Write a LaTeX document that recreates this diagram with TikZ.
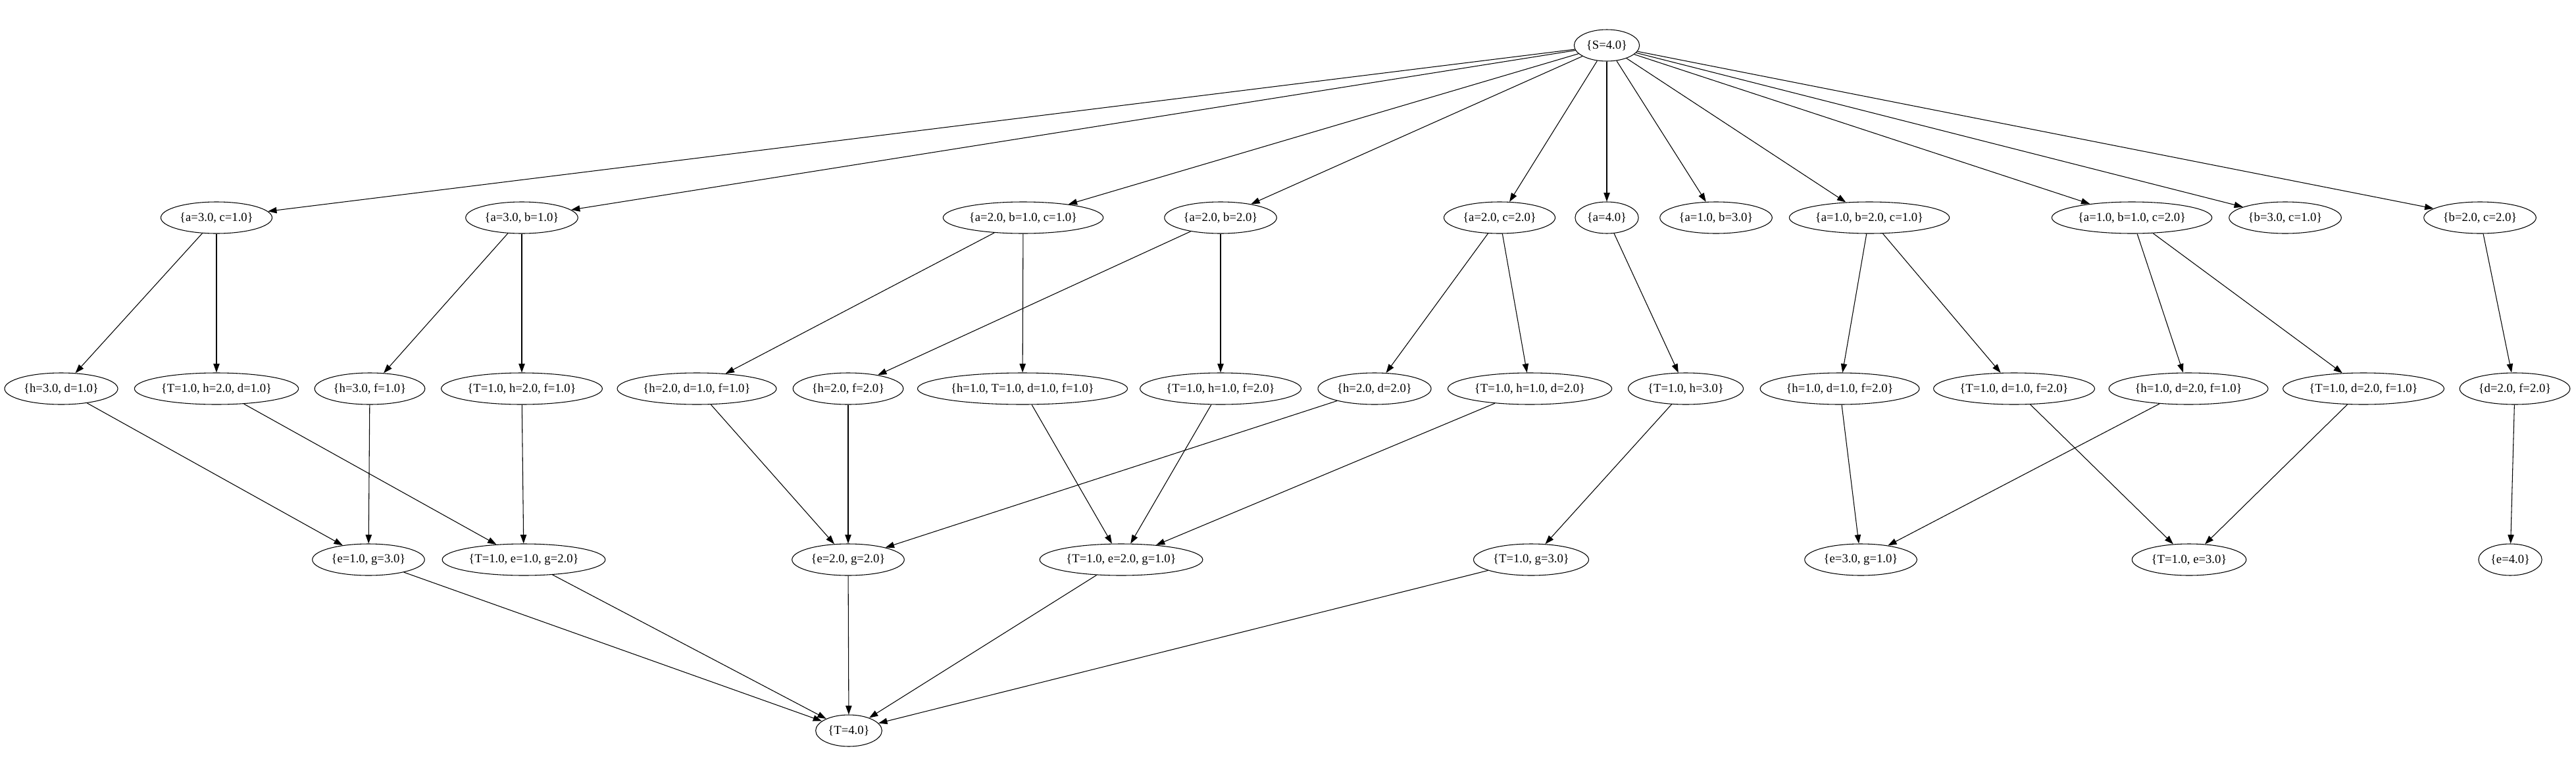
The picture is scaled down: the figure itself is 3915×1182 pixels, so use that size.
\documentclass[tikz,border=0pt]{standalone}
\usepackage{fontspec}
\setmainfont{Liberation Serif}
\usetikzlibrary{shapes.geometric,arrows.meta}
\begin{document}
\begin{tikzpicture}[x=0.75pt,y=-0.75pt,
  st/.style={draw,ellipse,line width=0.8pt,minimum height=36pt,inner xsep=3pt,inner ysep=2pt,font=\fontsize{14}{16}\selectfont},
  ed/.style={draw,line width=0.8pt,-{Triangle[length=10pt,width=7pt]}}]
\useasboundingbox (0,0) rectangle (3915,1182);
% row 0
\node[st] (s) at (2442,69) {\{S=4.0\}};
% row 1
\node[st] (r1a) at (329,331) {\{a=3.0, c=1.0\}};
\node[st] (r1b) at (793,331) {\{a=3.0, b=1.0\}};
\node[st] (r1c) at (1555,331) {\{a=2.0, b=1.0, c=1.0\}};
\node[st] (r1d) at (1855,331) {\{a=2.0, b=2.0\}};
\node[st] (r1e) at (2279,331) {\{a=2.0, c=2.0\}};
\node[st] (r1f) at (2442,331) {\{a=4.0\}};
\node[st] (r1g) at (2608,331) {\{a=1.0, b=3.0\}};
\node[st] (r1h) at (2841,331) {\{a=1.0, b=2.0, c=1.0\}};
\node[st] (r1i) at (3240,331) {\{a=1.0, b=1.0, c=2.0\}};
\node[st] (r1j) at (3473,331) {\{b=3.0, c=1.0\}};
\node[st] (r1k) at (3769,331) {\{b=2.0, c=2.0\}};
% row 2
\node[st] (r2a) at (93,591) {\{h=3.0, d=1.0\}};
\node[st] (r2b) at (329,591) {\{T=1.0, h=2.0, d=1.0\}};
\node[st] (r2c) at (562,591) {\{h=3.0, f=1.0\}};
\node[st] (r2d) at (793,591) {\{T=1.0, h=2.0, f=1.0\}};
\node[st] (r2e) at (1059,591) {\{h=2.0, d=1.0, f=1.0\}};
\node[st] (r2f) at (1289,591) {\{h=2.0, f=2.0\}};
\node[st] (r2g) at (1554,591) {\{h=1.0, T=1.0, d=1.0, f=1.0\}};
\node[st] (r2h) at (1855,591) {\{T=1.0, h=1.0, f=2.0\}};
\node[st] (r2i) at (2089,591) {\{h=2.0, d=2.0\}};
\node[st] (r2j) at (2325,591) {\{T=1.0, h=1.0, d=2.0\}};
\node[st] (r2k) at (2562,591) {\{T=1.0, h=3.0\}};
\node[st] (r2l) at (2796,591) {\{h=1.0, d=1.0, f=2.0\}};
\node[st] (r2m) at (3061,591) {\{T=1.0, d=1.0, f=2.0\}};
\node[st] (r2n) at (3326,591) {\{h=1.0, d=2.0, f=1.0\}};
\node[st] (r2o) at (3592,591) {\{T=1.0, d=2.0, f=1.0\}};
\node[st] (r2p) at (3822,591) {\{d=2.0, f=2.0\}};
% row 3
\node[st] (r3a) at (560,851) {\{e=1.0, g=3.0\}};
\node[st] (r3b) at (796,851) {\{T=1.0, e=1.0, g=2.0\}};
\node[st] (r3c) at (1289,851) {\{e=2.0, g=2.0\}};
\node[st] (r3d) at (1704,851) {\{T=1.0, e=2.0, g=1.0\}};
\node[st] (r3e) at (2327,851) {\{T=1.0, g=3.0\}};
\node[st] (r3f) at (2828,851) {\{e=3.0, g=1.0\}};
\node[st] (r3g) at (3327,851) {\{T=1.0, e=3.0\}};
\node[st] (r3h) at (3815,851) {\{e=4.0\}};
% row 4
\node[st] (t) at (1290,1111) {\{T=4.0\}};
% edges
\foreach \n in {r1a,r1b,r1c,r1d,r1e,r1f,r1g,r1h,r1i,r1j,r1k}
  \draw[ed] (s) -- (\n);
\draw[ed] (r1a) -- (r2a);
\draw[ed] (r1a) -- (r2b);
\draw[ed] (r1b) -- (r2c);
\draw[ed] (r1b) -- (r2d);
\draw[ed] (r1c) -- (r2e);
\draw[ed] (r1c) -- (r2g);
\draw[ed] (r1d) -- (r2f);
\draw[ed] (r1d) -- (r2h);
\draw[ed] (r1e) -- (r2i);
\draw[ed] (r1e) -- (r2j);
\draw[ed] (r1f) -- (r2k);
\draw[ed] (r1h) -- (r2l);
\draw[ed] (r1h) -- (r2m);
\draw[ed] (r1i) -- (r2n);
\draw[ed] (r1i) -- (r2o);
\draw[ed] (r1k) -- (r2p);
\draw[ed] (r2a) -- (r3a);
\draw[ed] (r2b) -- (r3b);
\draw[ed] (r2c) -- (r3a);
\draw[ed] (r2d) -- (r3b);
\draw[ed] (r2e) -- (r3c);
\draw[ed] (r2f) -- (r3c);
\draw[ed] (r2g) -- (r3d);
\draw[ed] (r2h) -- (r3d);
\draw[ed] (r2i) -- (r3c);
\draw[ed] (r2j) -- (r3d);
\draw[ed] (r2k) -- (r3e);
\draw[ed] (r2l) -- (r3f);
\draw[ed] (r2m) -- (r3g);
\draw[ed] (r2n) -- (r3f);
\draw[ed] (r2o) -- (r3g);
\draw[ed] (r2p) -- (r3h);
\foreach \n in {r3a,r3b,r3c,r3d,r3e}
  \draw[ed] (\n) -- (t);
\end{tikzpicture}
\end{document}
